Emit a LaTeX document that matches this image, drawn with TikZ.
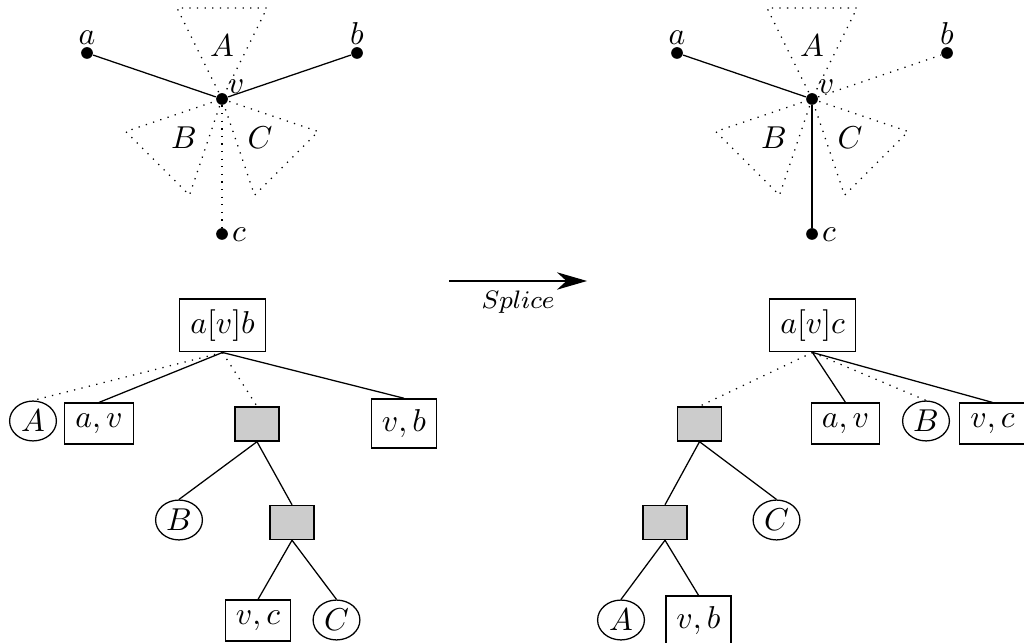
\documentclass[tikz,border=0pt]{standalone}
\usetikzlibrary{arrows.meta,shapes.geometric}
\begin{document}
\begin{tikzpicture}[x=0.0111111cm, y=-0.0111111cm,
  vertex/.style={circle, fill, inner sep=0pt, minimum size=3.7pt},
  lbl/.style={inner sep=0pt},
  tri/.style={dotted},
  hidden/.style={dotted},
  leaf/.style={draw, rectangle},
  sub/.style={draw, ellipse, inner sep=0pt, minimum width=14.8pt, minimum height=12.6pt},
  inner/.style={draw, rectangle, fill=black!20, inner sep=0pt,
                minimum width=13.9pt, minimum height=10.8pt},
]
\useasboundingbox (0,0) rectangle (1024,643);

% ---------- graph before the splice ----------
\node[vertex] (vL) at (222,99) {};
\node[vertex] (aL) at (87,53) {};
\node[vertex] (bL) at (357,53) {};
\node[vertex] (cL) at (222,234) {};
\begin{scope}[shift={(222,99)}]
  \draw[tri] (0,0) -- (-45,-91) -- (45,-91) -- cycle;
  \draw[tri, rotate=135] (0,0) -- (-45,-91) -- (45,-91) -- cycle;
  \draw[tri, rotate=-135] (0,0) -- (-45,-91) -- (45,-91) -- cycle;
\end{scope}
\draw (aL) -- (vL);
\draw (vL) -- (bL);
\draw[hidden] (vL) -- (cL);
\node[lbl, anchor=base] (laL) at (87,45) {$a$};
\node[lbl, anchor=base] (lbL) at (357,45) {$b$};
\node[lbl, anchor=base] (lvL) at (236,94) {$v$};
\node[lbl, anchor=base] (lcL) at (239,242) {$c$};
\node[lbl] (tAL) at (222,46) {$A$};
\node[lbl] (tBL) at (184,138) {$B$};
\node[lbl] (tCL) at (260,138) {$C$};

% ---------- graph after the splice ----------
\node[vertex] (vR) at (812,99) {};
\node[vertex] (aR) at (677,53) {};
\node[vertex] (bR) at (947,53) {};
\node[vertex] (cR) at (812,234) {};
\begin{scope}[shift={(812,99)}]
  \draw[tri] (0,0) -- (-45,-91) -- (45,-91) -- cycle;
  \draw[tri, rotate=135] (0,0) -- (-45,-91) -- (45,-91) -- cycle;
  \draw[tri, rotate=-135] (0,0) -- (-45,-91) -- (45,-91) -- cycle;
\end{scope}
\draw (aR) -- (vR);
\draw[hidden] (vR) -- (bR);
\draw (vR) -- (cR);
\node[lbl, anchor=base] (laR) at (677,45) {$a$};
\node[lbl, anchor=base] (lbR) at (947,45) {$b$};
\node[lbl, anchor=base] (lvR) at (826,94) {$v$};
\node[lbl, anchor=base] (lcR) at (829,242) {$c$};
\node[lbl] (tAR) at (812,46) {$A$};
\node[lbl] (tBR) at (774,138) {$B$};
\node[lbl] (tCR) at (850,138) {$C$};

% ---------- splice arrow ----------
\coordinate (arrS) at (449,281);
\coordinate (arrE) at (587,281);
\draw[-{Stealth[length=9.5pt, width=5.5pt, inset=3pt]}] (arrS) -- (arrE);
\node[lbl, font=\footnotesize] (splice) at (518,302) {$Splice$};

% ---------- tree before the splice ----------
\node[leaf] (r1) at (222.5,325.5) {$a[v]b$};
\node[sub] (A1) at (33,421) {$A$};
\node[leaf] (av1) at (99,423.5) {$a,v$};
\node[inner] (g1) at (257,424) {};
\node[leaf] (vb1) at (404,423.5) {$v,b$};
\node[sub] (B1) at (179,520) {$B$};
\node[inner] (g2) at (292,522.5) {};
\node[leaf] (vc1) at (258,620.5) {$v,c$};
\node[sub] (C1) at (336.5,620) {$C$};
\draw[hidden] (r1.south) -- (A1.north);
\draw (r1.south) -- (av1.north);
\draw[hidden] (r1.south) -- (g1.north);
\draw (r1.south) -- (vb1.north);
\draw (g1.south) -- (B1.north);
\draw (g1.south) -- (g2.north);
\draw (g2.south) -- (vc1.north);
\draw (g2.south) -- (C1.north);

% ---------- tree after the splice ----------
\node[leaf] (r2) at (812.5,325.5) {$a[v]c$};
\node[inner] (g3) at (699.5,424) {};
\node[leaf] (av2) at (845.5,423.5) {$a,v$};
\node[sub] (B2) at (926,421) {$B$};
\node[leaf] (vc2) at (992.5,423.5) {$v,c$};
\node[inner] (g4) at (665,522.5) {};
\node[sub] (C2) at (776.5,520) {$C$};
\node[sub] (A2) at (621,620) {$A$};
\node[leaf] (vb2) at (698.5,620.5) {$v,b$};
\draw[hidden] (r2.south) -- (g3.north);
\draw (r2.south) -- (av2.north);
\draw[hidden] (r2.south) -- (B2.north);
\draw (r2.south) -- (vc2.north);
\draw (g3.south) -- (g4.north);
\draw (g3.south) -- (C2.north);
\draw (g4.south) -- (A2.north);
\draw (g4.south) -- (vb2.north);
\end{tikzpicture}
\end{document}
